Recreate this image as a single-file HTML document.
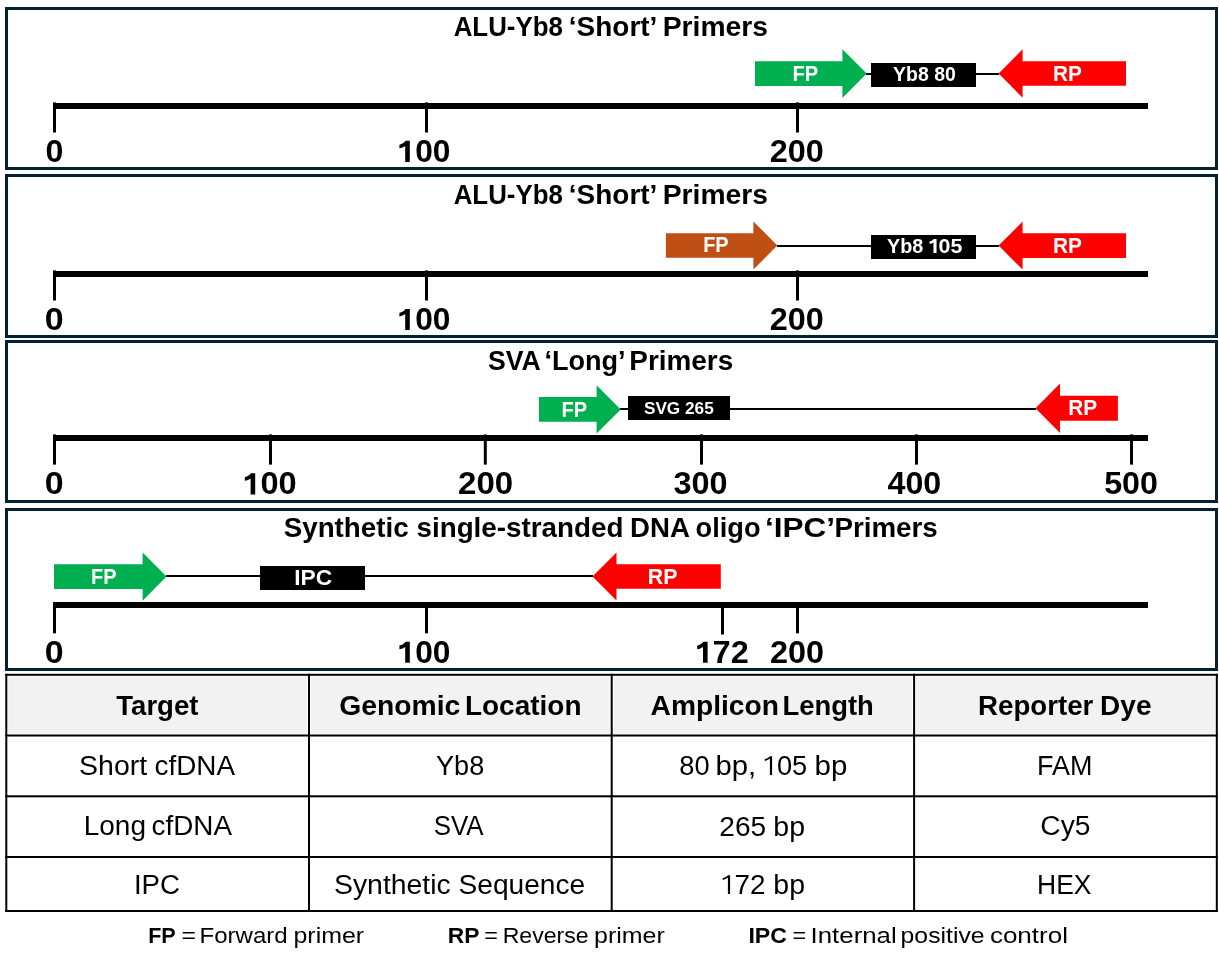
<!DOCTYPE html>
<html><head><meta charset="utf-8"><style>
html,body{margin:0;padding:0;background:#fff;width:1219px;height:965px;overflow:hidden}
svg{display:block;will-change:transform}
text{font-family:"Liberation Sans",sans-serif}
</style></head><body>
<svg width="1219" height="965" viewBox="0 0 1219 965">
<rect x="6.5" y="8.5" width="1210" height="160.0" fill="none" stroke="#042132" stroke-width="3"/>
<rect x="6.5" y="175.5" width="1210" height="161.0" fill="none" stroke="#042132" stroke-width="3"/>
<rect x="6.5" y="341.5" width="1210" height="160.0" fill="none" stroke="#042132" stroke-width="3"/>
<rect x="6.5" y="509.5" width="1210" height="160.0" fill="none" stroke="#042132" stroke-width="3"/>
<rect x="866" y="73" width="133" height="2" fill="#000"/>
<rect x="777" y="245" width="222" height="2" fill="#000"/>
<rect x="620" y="408" width="416" height="2" fill="#000"/>
<rect x="166" y="575" width="427" height="2" fill="#000"/>
<polygon points="755.00,61.25 842.40,61.25 842.40,49.30 866.70,73.60 842.40,97.90 842.40,85.95 755.00,85.95" fill="#00b050"/>
<polygon points="998.60,73.50 1022.60,49.30 1022.60,61.20 1126.00,61.20 1126.00,85.80 1022.60,85.80 1022.60,97.70" fill="#ff0000"/>
<polygon points="665.90,233.25 753.40,233.25 753.40,221.40 777.30,245.50 753.40,269.60 753.40,257.75 665.90,257.75" fill="#c04f15"/>
<polygon points="998.60,245.60 1022.60,221.60 1022.60,233.30 1126.00,233.30 1126.00,257.90 1022.60,257.90 1022.60,269.60" fill="#ff0000"/>
<polygon points="539.00,397.05 596.60,397.05 596.60,385.25 620.70,409.40 596.60,433.55 596.60,421.75 539.00,421.75" fill="#00b050"/>
<polygon points="1035.50,408.20 1060.00,383.40 1060.00,395.70 1117.90,395.70 1117.90,420.70 1060.00,420.70 1060.00,433.00" fill="#ff0000"/>
<polygon points="54.00,564.30 142.60,564.30 142.60,552.50 166.50,576.60 142.60,600.70 142.60,588.90 54.00,588.90" fill="#00b050"/>
<polygon points="592.50,576.50 616.50,552.60 616.50,564.35 720.80,564.35 720.80,588.65 616.50,588.65 616.50,600.40" fill="#ff0000"/>
<rect x="871" y="63" width="105" height="24" fill="#000"/>
<rect x="871" y="235" width="105" height="24" fill="#000"/>
<rect x="628" y="396" width="102" height="24" fill="#000"/>
<rect x="260" y="566" width="105" height="24" fill="#000"/>
<rect x="53" y="103" width="1095" height="6" fill="#000"/>
<rect x="53" y="271" width="1095" height="6" fill="#000"/>
<rect x="53" y="435" width="1095" height="6" fill="#000"/>
<rect x="53" y="602" width="1095" height="6" fill="#000"/>
<rect x="53.00" y="102.4" width="3" height="30.10" fill="#000"/>
<rect x="425.00" y="102.4" width="3" height="30.10" fill="#000"/>
<rect x="796.00" y="102.4" width="3" height="30.10" fill="#000"/>
<rect x="53.00" y="270.4" width="3" height="30.10" fill="#000"/>
<rect x="425.00" y="270.4" width="3" height="30.10" fill="#000"/>
<rect x="796.00" y="270.4" width="3" height="30.10" fill="#000"/>
<rect x="53.00" y="434.4" width="3" height="30.20" fill="#000"/>
<rect x="269.00" y="434.4" width="3" height="30.20" fill="#000"/>
<rect x="483.80" y="434.4" width="3" height="30.20" fill="#000"/>
<rect x="700.00" y="434.4" width="3" height="30.20" fill="#000"/>
<rect x="915.00" y="434.4" width="3" height="30.20" fill="#000"/>
<rect x="1130.00" y="434.4" width="3" height="30.20" fill="#000"/>
<rect x="53.00" y="602" width="3" height="31.30" fill="#000"/>
<rect x="425.00" y="602" width="3" height="31.30" fill="#000"/>
<rect x="796.00" y="602" width="3" height="31.30" fill="#000"/>
<rect x="721.00" y="602" width="3" height="32.50" fill="#000"/>
<path transform="translate(399.4,161.9)" d="M10.4,0V-21.1H6.2C5,-19.4 3,-18.1 0,-17.2V-13.6C2.2,-14 4.2,-14.8 5.8,-15.9V0Z" fill="#000"/>
<path transform="translate(399.4,330.0)" d="M10.4,0V-21.1H6.2C5,-19.4 3,-18.1 0,-17.2V-13.6C2.2,-14 4.2,-14.8 5.8,-15.9V0Z" fill="#000"/>
<path transform="translate(244.8,494.4)" d="M10.4,0V-21.1H6.2C5,-19.4 3,-18.1 0,-17.2V-13.6C2.2,-14 4.2,-14.8 5.8,-15.9V0Z" fill="#000"/>
<path transform="translate(399.4,662.8)" d="M10.4,0V-21.1H6.2C5,-19.4 3,-18.1 0,-17.2V-13.6C2.2,-14 4.2,-14.8 5.8,-15.9V0Z" fill="#000"/>
<path transform="translate(697.2,662.8)" d="M10.4,0V-21.1H6.2C5,-19.4 3,-18.1 0,-17.2V-13.6C2.2,-14 4.2,-14.8 5.8,-15.9V0Z" fill="#000"/>
<path transform="translate(929.6,253.1) scale(0.668)" d="M10.4,0V-21.1H6.2C5,-19.4 3,-18.1 0,-17.2V-13.6C2.2,-14 4.2,-14.8 5.8,-15.9V0Z" fill="#fff"/>
<path transform="translate(764.7,775.0)" d="M7.4,0V-18.8H5.3C4,-17.4 2.2,-16.4 0,-15.9V-14C2,-14.4 3.8,-15.2 5.2,-16.4V0Z" fill="#000"/>
<path transform="translate(722.7,894.0)" d="M7.4,0V-18.8H5.3C4,-17.4 2.2,-16.4 0,-15.9V-14C2,-14.4 3.8,-15.2 5.2,-16.4V0Z" fill="#000"/>
<rect x="8.30" y="676.80" width="298.70" height="56.70" fill="#f2f2f2"/>
<rect x="311.00" y="676.80" width="298.70" height="56.70" fill="#f2f2f2"/>
<rect x="613.70" y="676.80" width="298.40" height="56.70" fill="#f2f2f2"/>
<rect x="916.10" y="676.80" width="298.70" height="56.70" fill="#f2f2f2"/>
<rect x="5.30" y="673.80" width="1212.50" height="2" fill="#000"/>
<rect x="5.30" y="734.50" width="1212.50" height="2" fill="#000"/>
<rect x="5.30" y="795.30" width="1212.50" height="2" fill="#000"/>
<rect x="5.30" y="856.00" width="1212.50" height="2" fill="#000"/>
<rect x="5.30" y="910.00" width="1212.50" height="2" fill="#000"/>
<rect x="5.30" y="673.80" width="2" height="238.20" fill="#000"/>
<rect x="308.00" y="673.80" width="2" height="238.20" fill="#000"/>
<rect x="610.70" y="673.80" width="2" height="238.20" fill="#000"/>
<rect x="913.10" y="673.80" width="2" height="238.20" fill="#000"/>
<rect x="1215.80" y="673.80" width="2" height="238.20" fill="#000"/>
<text x="453.70" y="35.75" font-weight="700" font-size="27" fill="#000000" textLength="109.20" lengthAdjust="spacingAndGlyphs">ALU-Yb8</text>
<text x="568.80" y="35.75" font-weight="700" font-size="27" fill="#000000" textLength="88.60" lengthAdjust="spacingAndGlyphs">‘Short’</text>
<text x="662.70" y="35.75" font-weight="700" font-size="27" fill="#000000" textLength="105.30" lengthAdjust="spacingAndGlyphs">Primers</text>
<text x="453.70" y="203.70" font-weight="700" font-size="27" fill="#000000" textLength="109.20" lengthAdjust="spacingAndGlyphs">ALU-Yb8</text>
<text x="568.80" y="203.70" font-weight="700" font-size="27" fill="#000000" textLength="88.60" lengthAdjust="spacingAndGlyphs">‘Short’</text>
<text x="662.70" y="203.70" font-weight="700" font-size="27" fill="#000000" textLength="105.30" lengthAdjust="spacingAndGlyphs">Primers</text>
<text x="487.90" y="370.10" font-weight="700" font-size="27" fill="#000000" textLength="52.80" lengthAdjust="spacingAndGlyphs">SVA</text>
<text x="544.40" y="370.10" font-weight="700" font-size="27" fill="#000000" textLength="81.20" lengthAdjust="spacingAndGlyphs">‘Long’</text>
<text x="629.30" y="370.10" font-weight="700" font-size="27" fill="#000000" textLength="103.90" lengthAdjust="spacingAndGlyphs">Primers</text>
<text x="283.70" y="536.80" font-weight="700" font-size="27" fill="#000000" textLength="124.90" lengthAdjust="spacingAndGlyphs">Synthetic</text>
<text x="416.50" y="536.80" font-weight="700" font-size="27" fill="#000000" textLength="206.90" lengthAdjust="spacingAndGlyphs">single-stranded</text>
<text x="630.00" y="536.80" font-weight="700" font-size="27" fill="#000000" textLength="59.90" lengthAdjust="spacingAndGlyphs">DNA</text>
<text x="695.60" y="536.80" font-weight="700" font-size="27" fill="#000000" textLength="64.90" lengthAdjust="spacingAndGlyphs">oligo</text>
<text x="765.00" y="536.80" font-weight="700" font-size="27" fill="#000000" textLength="70.00" lengthAdjust="spacingAndGlyphs">‘IPC’</text>
<text x="834.40" y="536.80" font-weight="700" font-size="27" fill="#000000" textLength="103.30" lengthAdjust="spacingAndGlyphs">Primers</text>
<text x="792.40" y="80.80" font-weight="700" font-size="21.7" fill="#ffffff" textLength="25.80" lengthAdjust="spacingAndGlyphs">FP</text>
<text x="1053.00" y="81.20" font-weight="700" font-size="21.7" fill="#ffffff" textLength="28.90" lengthAdjust="spacingAndGlyphs">RP</text>
<text x="893.10" y="81.20" font-weight="700" font-size="20" fill="#ffffff" textLength="62.70" lengthAdjust="spacingAndGlyphs">Yb8 80</text>
<text x="703.20" y="251.90" font-weight="700" font-size="21.7" fill="#ffffff" textLength="25.40" lengthAdjust="spacingAndGlyphs">FP</text>
<text x="887.00" y="253.10" font-weight="700" font-size="20" fill="#ffffff" textLength="36.30" lengthAdjust="spacingAndGlyphs">Yb8</text>
<text x="938.50" y="253.10" font-weight="700" font-size="20" fill="#ffffff" textLength="23.80" lengthAdjust="spacingAndGlyphs">05</text>
<text x="1053.00" y="253.10" font-weight="700" font-size="21.7" fill="#ffffff" textLength="28.90" lengthAdjust="spacingAndGlyphs">RP</text>
<text x="561.50" y="417.00" font-weight="700" font-size="21.7" fill="#ffffff" textLength="25.70" lengthAdjust="spacingAndGlyphs">FP</text>
<text x="643.90" y="413.90" font-weight="700" font-size="17" fill="#ffffff" textLength="69.90" lengthAdjust="spacingAndGlyphs">SVG 265</text>
<text x="1068.20" y="415.20" font-weight="700" font-size="21.7" fill="#ffffff" textLength="29.00" lengthAdjust="spacingAndGlyphs">RP</text>
<text x="91.10" y="583.80" font-weight="700" font-size="21.7" fill="#ffffff" textLength="25.50" lengthAdjust="spacingAndGlyphs">FP</text>
<text x="294.20" y="584.80" font-weight="700" font-size="21.5" fill="#ffffff" textLength="37.90" lengthAdjust="spacingAndGlyphs">IPC</text>
<text x="647.80" y="584.00" font-weight="700" font-size="21.7" fill="#ffffff" textLength="29.70" lengthAdjust="spacingAndGlyphs">RP</text>
<text x="45.50" y="162.10" font-weight="700" font-size="32" fill="#000000" textLength="17.90" lengthAdjust="spacingAndGlyphs">0</text>
<text x="415.20" y="161.90" font-weight="700" font-size="32" fill="#000000" textLength="35.30" lengthAdjust="spacingAndGlyphs">00</text>
<text x="769.70" y="161.90" font-weight="700" font-size="32" fill="#000000" textLength="54.10" lengthAdjust="spacingAndGlyphs">200</text>
<text x="44.80" y="330.00" font-weight="700" font-size="32" fill="#000000" textLength="18.90" lengthAdjust="spacingAndGlyphs">0</text>
<text x="415.20" y="330.00" font-weight="700" font-size="32" fill="#000000" textLength="35.30" lengthAdjust="spacingAndGlyphs">00</text>
<text x="769.70" y="330.00" font-weight="700" font-size="32" fill="#000000" textLength="54.10" lengthAdjust="spacingAndGlyphs">200</text>
<text x="44.80" y="494.40" font-weight="700" font-size="32" fill="#000000" textLength="18.90" lengthAdjust="spacingAndGlyphs">0</text>
<text x="260.40" y="494.40" font-weight="700" font-size="32" fill="#000000" textLength="36.30" lengthAdjust="spacingAndGlyphs">00</text>
<text x="458.10" y="494.40" font-weight="700" font-size="32" fill="#000000" textLength="55.10" lengthAdjust="spacingAndGlyphs">200</text>
<text x="673.40" y="494.40" font-weight="700" font-size="32" fill="#000000" textLength="54.10" lengthAdjust="spacingAndGlyphs">300</text>
<text x="887.50" y="494.40" font-weight="700" font-size="32" fill="#000000" textLength="53.80" lengthAdjust="spacingAndGlyphs">400</text>
<text x="1104.20" y="494.40" font-weight="700" font-size="32" fill="#000000" textLength="53.80" lengthAdjust="spacingAndGlyphs">500</text>
<text x="44.80" y="662.80" font-weight="700" font-size="32" fill="#000000" textLength="18.90" lengthAdjust="spacingAndGlyphs">0</text>
<text x="415.20" y="662.80" font-weight="700" font-size="32" fill="#000000" textLength="35.30" lengthAdjust="spacingAndGlyphs">00</text>
<text x="712.60" y="662.80" font-weight="700" font-size="32" fill="#000000" textLength="36.20" lengthAdjust="spacingAndGlyphs">72</text>
<text x="770.00" y="662.80" font-weight="700" font-size="32" fill="#000000" textLength="54.10" lengthAdjust="spacingAndGlyphs">200</text>
<text x="116.30" y="715.20" font-weight="700" font-size="27.5" fill="#000000" textLength="82.10" lengthAdjust="spacingAndGlyphs">Target</text>
<text x="339.30" y="715.20" font-weight="700" font-size="27.5" fill="#000000" textLength="121.00" lengthAdjust="spacingAndGlyphs">Genomic</text>
<text x="464.90" y="715.20" font-weight="700" font-size="27.5" fill="#000000" textLength="116.60" lengthAdjust="spacingAndGlyphs">Location</text>
<text x="650.60" y="715.20" font-weight="700" font-size="27.5" fill="#000000" textLength="128.30" lengthAdjust="spacingAndGlyphs">Amplicon</text>
<text x="782.50" y="715.20" font-weight="700" font-size="27.5" fill="#000000" textLength="91.30" lengthAdjust="spacingAndGlyphs">Length</text>
<text x="978.10" y="715.40" font-weight="700" font-size="27.5" fill="#000000" textLength="115.20" lengthAdjust="spacingAndGlyphs">Reporter</text>
<text x="1100.10" y="715.40" font-weight="700" font-size="27.5" fill="#000000" textLength="51.40" lengthAdjust="spacingAndGlyphs">Dye</text>
<text x="79.10" y="775.00" font-weight="400" font-size="27" fill="#000000" textLength="68.00" lengthAdjust="spacingAndGlyphs">Short</text>
<text x="154.50" y="775.00" font-weight="400" font-size="27" fill="#000000" textLength="80.60" lengthAdjust="spacingAndGlyphs">cfDNA</text>
<text x="436.00" y="775.00" font-weight="400" font-size="27" fill="#000000" textLength="48.20" lengthAdjust="spacingAndGlyphs">Yb8</text>
<text x="679.30" y="775.00" font-weight="400" font-size="27" fill="#000000" textLength="30.30" lengthAdjust="spacingAndGlyphs">80</text>
<text x="715.50" y="775.00" font-weight="400" font-size="27" fill="#000000" textLength="40.70" lengthAdjust="spacingAndGlyphs">bp,</text>
<text x="776.90" y="775.00" font-weight="400" font-size="27" fill="#000000" textLength="30.30" lengthAdjust="spacingAndGlyphs">05</text>
<text x="814.50" y="775.00" font-weight="400" font-size="27" fill="#000000" textLength="32.80" lengthAdjust="spacingAndGlyphs">bp</text>
<text x="1037.10" y="775.40" font-weight="400" font-size="27" fill="#000000" textLength="55.40" lengthAdjust="spacingAndGlyphs">FAM</text>
<text x="83.70" y="835.40" font-weight="400" font-size="27" fill="#000000" textLength="62.30" lengthAdjust="spacingAndGlyphs">Long</text>
<text x="151.50" y="835.40" font-weight="400" font-size="27" fill="#000000" textLength="80.50" lengthAdjust="spacingAndGlyphs">cfDNA</text>
<text x="433.70" y="835.40" font-weight="400" font-size="27" fill="#000000" textLength="49.90" lengthAdjust="spacingAndGlyphs">SVA</text>
<text x="719.30" y="835.80" font-weight="400" font-size="27" fill="#000000" textLength="46.90" lengthAdjust="spacingAndGlyphs">265</text>
<text x="773.30" y="835.80" font-weight="400" font-size="27" fill="#000000" textLength="31.70" lengthAdjust="spacingAndGlyphs">bp</text>
<text x="1040.30" y="835.20" font-weight="400" font-size="27" fill="#000000" textLength="50.10" lengthAdjust="spacingAndGlyphs">Cy5</text>
<text x="133.90" y="894.00" font-weight="400" font-size="27" fill="#000000" textLength="46.10" lengthAdjust="spacingAndGlyphs">IPC</text>
<text x="334.00" y="894.00" font-weight="400" font-size="27" fill="#000000" textLength="116.70" lengthAdjust="spacingAndGlyphs">Synthetic</text>
<text x="458.50" y="894.00" font-weight="400" font-size="27" fill="#000000" textLength="126.70" lengthAdjust="spacingAndGlyphs">Sequence</text>
<text x="734.60" y="894.00" font-weight="400" font-size="27" fill="#000000" textLength="31.00" lengthAdjust="spacingAndGlyphs">72</text>
<text x="773.30" y="894.00" font-weight="400" font-size="27" fill="#000000" textLength="31.70" lengthAdjust="spacingAndGlyphs">bp</text>
<text x="1037.10" y="894.00" font-weight="400" font-size="27" fill="#000000" textLength="54.40" lengthAdjust="spacingAndGlyphs">HEX</text>
<text x="148.20" y="942.80" font-weight="700" font-size="22.2" fill="#000000" textLength="27.50" lengthAdjust="spacingAndGlyphs">FP</text>
<text x="181.60" y="942.80" font-weight="400" font-size="22.2" fill="#000000" textLength="14.50" lengthAdjust="spacingAndGlyphs">=</text>
<text x="199.50" y="942.80" font-weight="400" font-size="22.2" fill="#000000" textLength="88.10" lengthAdjust="spacingAndGlyphs">Forward</text>
<text x="293.50" y="942.80" font-weight="400" font-size="22.2" fill="#000000" textLength="70.60" lengthAdjust="spacingAndGlyphs">primer</text>
<text x="447.80" y="942.80" font-weight="700" font-size="22.2" fill="#000000" textLength="31.60" lengthAdjust="spacingAndGlyphs">RP</text>
<text x="484.30" y="942.80" font-weight="400" font-size="22.2" fill="#000000" textLength="13.60" lengthAdjust="spacingAndGlyphs">=</text>
<text x="502.70" y="942.80" font-weight="400" font-size="22.2" fill="#000000" textLength="85.90" lengthAdjust="spacingAndGlyphs">Reverse</text>
<text x="594.00" y="942.80" font-weight="400" font-size="22.2" fill="#000000" textLength="70.70" lengthAdjust="spacingAndGlyphs">primer</text>
<text x="748.40" y="942.80" font-weight="700" font-size="22.2" fill="#000000" textLength="38.60" lengthAdjust="spacingAndGlyphs">IPC</text>
<text x="792.60" y="942.80" font-weight="400" font-size="22.2" fill="#000000" textLength="13.70" lengthAdjust="spacingAndGlyphs">=</text>
<text x="810.60" y="942.80" font-weight="400" font-size="22.2" fill="#000000" textLength="86.10" lengthAdjust="spacingAndGlyphs">Internal</text>
<text x="900.60" y="942.80" font-weight="400" font-size="22.2" fill="#000000" textLength="84.00" lengthAdjust="spacingAndGlyphs">positive</text>
<text x="989.90" y="942.80" font-weight="400" font-size="22.2" fill="#000000" textLength="78.10" lengthAdjust="spacingAndGlyphs">control</text>
</svg>
</body></html>
